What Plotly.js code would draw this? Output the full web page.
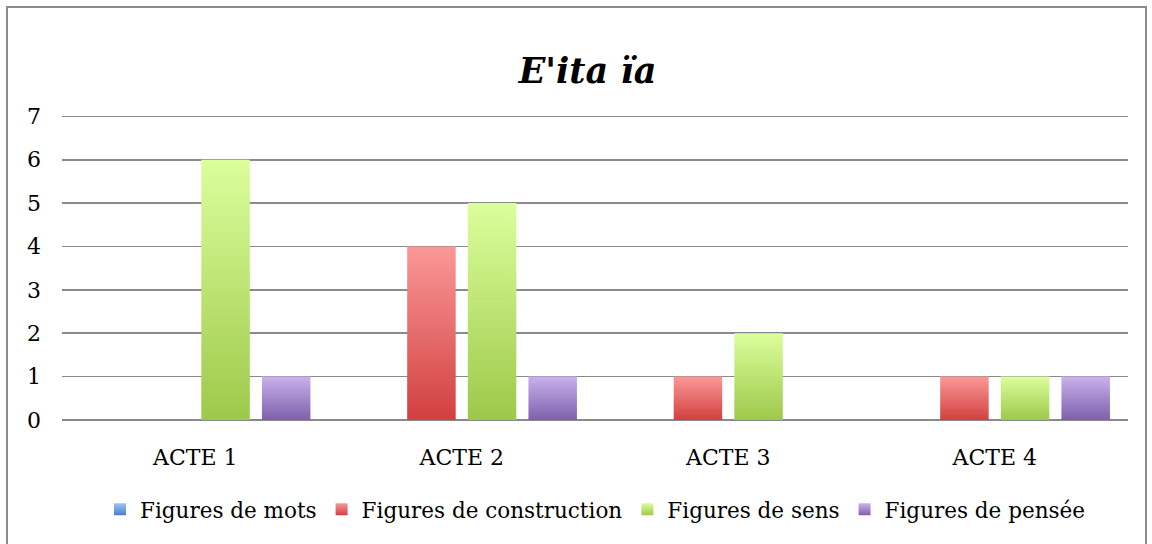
<!DOCTYPE html>
<html><head><meta charset="utf-8">
<script src="https://cdn.plot.ly/plotly-3.0.1.min.js"></script>
<style>
html,body{margin:0;padding:0;background:#fff;overflow:hidden;}
#frame{position:absolute;left:6px;top:6px;width:1141px;height:560px;border:2px solid #8c8c8c;box-sizing:border-box;}
#chart{position:absolute;left:0;top:0;width:1152px;height:544px;}
</style></head>
<body>
<div id="frame"></div>
<div id="chart"></div>
<script>
const categories = ["ACTE 1", "ACTE 2", "ACTE 3", "ACTE 4"];
const seriesNames = ["Figures de mots", "Figures de construction", "Figures de sens", "Figures de pensée"];
const figuresDeMots = [0, 0, 0, 0];
const figuresDeConstruction = [0, 4, 1, 1];
const figuresDeSens = [6, 5, 2, 1];
const figuresDePensee = [1, 1, 0, 1];
const yTicks = [0, 1, 2, 3, 4, 5, 6, 7];

const values = [figuresDeMots, figuresDeConstruction, figuresDeSens, figuresDePensee];
const colors = ["#6f9be0", "#e27272", "#c0e07e", "#a48ccc"];
const grads = [["#9dc3f5","#4a7ec8"],["#fb9898","#d24040"],["#dcfe9c","#9dc94a"],["#c8b2ec","#7f5fab"]];

const traces = values.map((v, i) => ({
  type: "bar",
  name: seriesNames[i],
  x: categories,
  y: v,
  marker: {color: colors[i], line: {width: 0}},
  hoverinfo: "none"
}));

const layout = {
  width: 1152, height: 544,
  paper_bgcolor: "rgba(0,0,0,0)", plot_bgcolor: "rgba(0,0,0,0)",
  margin: {l: 62, r: 24, t: 112, b: 124},
  font: {family: "DejaVu Serif, serif", size: 21, color: "#000"},
  title: {text: "<b><i>E'ita ïa</i></b>", x: 0.51, xanchor: "center", y: 0.87, yanchor: "middle",
          font: {family: "DejaVu Serif, serif", size: 35, color: "#000"}},
  barmode: "group", bargap: 0.09, bargroupgap: 0.2,
  showlegend: true,
  legend: {orientation: "h", x: 0.5, xanchor: "center", y: -0.29, yanchor: "middle",
           font: {size: 21.5, family: "DejaVu Serif, serif"}, itemwidth: 30, traceorder: "normal"},
  xaxis: {type: "category", showgrid: false, zeroline: false, showline: false, ticks: "",
          tickfont: {size: 22}, ticklabelstandoff: 22},
  yaxis: {range: [0, 7.1], tickvals: yTicks, showgrid: true, gridcolor: "#8a8a8a", gridwidth: 1.6,
          zeroline: true, zerolinecolor: "#8a8a8a", zerolinewidth: 1.6, showline: false, ticks: "",
          tickfont: {size: 22}, ticklabelstandoff: 20}
};

Plotly.newPlot("chart", traces, layout, {displayModeBar: false, staticPlot: true}).then(gd => {
  const svg = gd.querySelector("svg.main-svg");
  const NS = "http://www.w3.org/2000/svg";
  let defs = svg.querySelector("defs");
  if (!defs) { defs = document.createElementNS(NS, "defs"); svg.insertBefore(defs, svg.firstChild); }
  grads.forEach((g, i) => {
    const lg = document.createElementNS(NS, "linearGradient");
    lg.setAttribute("id", "bg" + i);
    lg.setAttribute("x1", "0"); lg.setAttribute("y1", "0"); lg.setAttribute("x2", "0"); lg.setAttribute("y2", "1");
    [[0, g[0]], [1, g[1]]].forEach(s => {
      const st = document.createElementNS(NS, "stop");
      st.setAttribute("offset", s[0]); st.setAttribute("stop-color", s[1]);
      lg.appendChild(st);
    });
    defs.appendChild(lg);
  });
  gd.querySelectorAll(".barlayer .trace").forEach((t, i) => {
    t.querySelectorAll("path").forEach(p => p.style.fill = "url(#bg" + i + ")");
  });
  gd.querySelectorAll(".legend .traces").forEach((t, i) => {
    t.querySelectorAll(".legendpoints path").forEach(p => p.style.fill = "url(#bg" + i + ")");
  });
});
</script>
</body></html>
